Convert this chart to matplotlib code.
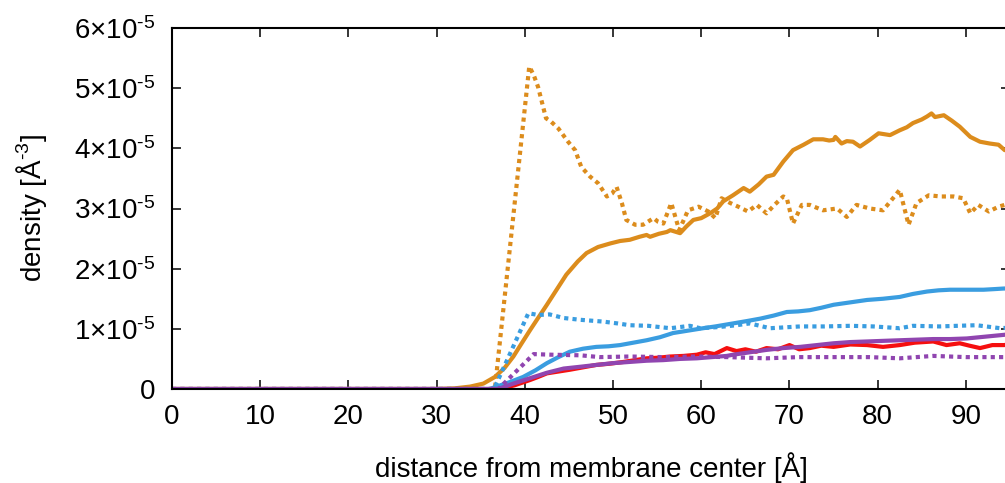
import matplotlib
matplotlib.use("Agg")
import matplotlib.pyplot as plt

plt.rcParams["font.family"] = ["Liberation Sans", "DejaVu Sans"]
plt.rcParams["mathtext.fontset"] = "custom"
plt.rcParams["mathtext.rm"] = "Liberation Sans"

# density in units of 1e-5 A^-3
orange_solid_x = [0, 30, 32, 33.8, 35.3, 36.6, 37.7, 38.7, 39.6, 40.6, 41.5, 42.5, 43.6, 44.7,
                  46.0, 47.0, 48.3, 49.7, 50.8, 51.9, 53.0, 53.8, 54.2, 55.2, 56.1, 56.5,
                  57.6, 58.3, 59.1, 60.0, 61.0, 61.8, 62.5, 63.6, 64.8, 65.5, 66.5, 67.4,
                  68.2, 69.3, 70.4, 71.6, 72.7, 73.8, 74.5, 75.0, 75.2, 75.9, 76.5, 77.2,
                  78.0, 79.1, 80.1, 81.4, 82.5, 83.3, 84.0, 85.0, 85.6, 86.1, 86.5, 87.5,
                  88.4, 89.3, 90.5, 91.6, 92.7, 93.7, 94.4, 95.0]
orange_solid_y = [0, 0, 0.01, 0.04, 0.09, 0.20, 0.35, 0.54, 0.75, 0.98, 1.18, 1.40, 1.65, 1.90,
                  2.12, 2.26, 2.36, 2.42, 2.46, 2.48, 2.53, 2.56, 2.53, 2.58, 2.61, 2.64,
                  2.59, 2.70, 2.81, 2.84, 2.92, 3.00, 3.12, 3.22, 3.34, 3.28, 3.40, 3.53,
                  3.56, 3.78, 3.97, 4.06, 4.15, 4.15, 4.13, 4.14, 4.19, 4.08, 4.12, 4.11,
                  4.03, 4.14, 4.25, 4.22, 4.30, 4.35, 4.42, 4.48, 4.53, 4.58, 4.52, 4.55,
                  4.46, 4.36, 4.19, 4.11, 4.08, 4.06, 3.97, 3.98]

orange_dot_x = [0, 36.6, 40.5, 41.0, 41.5, 42.4, 43.0, 43.8, 44.9, 45.7, 46.4, 47.4, 48.3, 49.3,
                49.9, 50.4, 51.0, 51.5, 52.5, 53.4, 54.6, 55.1, 55.7, 56.6, 57.5, 58.5,
                59.7, 60.8, 61.6, 62.3, 63.3, 64.2, 65.3, 66.3, 67.4, 68.3, 69.3, 69.7,
                70.4, 71.4, 72.3, 73.8, 75.4, 76.5, 77.6, 79.1, 80.6, 81.4, 82.5, 83.5,
                84.4, 85.8, 87.1, 88.6, 89.7, 90.5, 91.4, 92.6, 93.7, 94.4, 95.0]
orange_dot_y = [0, 0, 5.36, 5.22, 5.02, 4.50, 4.44, 4.33, 4.11, 3.97, 3.69, 3.53, 3.42, 3.20,
                3.25, 3.36, 3.09, 2.81, 2.73, 2.73, 2.84, 2.78, 2.75, 3.09, 2.64, 2.97,
                3.03, 2.95, 2.84, 3.17, 3.09, 3.03, 2.95, 3.06, 2.92, 3.06, 3.20, 3.17,
                2.75, 3.06, 3.06, 2.97, 3.00, 2.86, 3.06, 3.00, 2.97, 3.11, 3.31, 2.73,
                3.09, 3.22, 3.20, 3.20, 3.17, 2.92, 3.06, 2.95, 3.03, 3.06, 3.04]

blue_solid_x = [0, 36.0, 36.8, 38.2, 39.8, 41.2, 42.5, 43.8, 45.1, 46.6, 48.1, 49.5, 50.8, 52.3,
                53.8, 55.3, 56.8, 58.5, 60.2, 61.6, 63.6, 65.2, 66.7, 68.2, 69.7, 71.0,
                72.3, 73.6, 75.0, 76.9, 78.8, 80.6, 82.5, 84.0, 85.6, 86.9, 88.2, 90.1,
                92.0, 93.2, 94.3, 95.0]
blue_solid_y = [0, 0, 0.04, 0.11, 0.20, 0.31, 0.43, 0.53, 0.62, 0.67, 0.70, 0.71, 0.73, 0.77,
                0.81, 0.86, 0.93, 0.97, 1.01, 1.04, 1.09, 1.13, 1.17, 1.22, 1.28, 1.29,
                1.31, 1.35, 1.40, 1.44, 1.48, 1.50, 1.53, 1.58, 1.62, 1.64, 1.65, 1.65,
                1.65, 1.66, 1.67, 1.67]

blue_dot_x = [0, 36.5, 40.4, 41.5, 42.8, 44.4, 46.3, 48.9, 50.5, 51.9, 54.0, 56.5, 58.7, 59.9,
              62.0, 64.0, 65.5, 67.8, 71.2, 74.0, 76.9, 79.5, 82.5, 84.0, 87.0, 89.0,
              91.2, 93.9, 95.0]
blue_dot_y = [0, 0, 1.26, 1.23, 1.24, 1.18, 1.15, 1.12, 1.09, 1.06, 1.05, 1.01, 1.05, 1.01,
              1.03, 1.06, 1.09, 1.01, 1.04, 1.04, 1.05, 1.04, 1.01, 1.05, 1.04, 1.05,
              1.06, 1.01, 1.02]

red_x = [0, 37.0, 38.8, 40.6, 41.5, 42.5, 43.8, 45.1, 46.6, 48.1, 49.6, 51.2, 52.5, 53.8, 55.1,
         56.5, 58.0, 59.5, 60.5, 61.5, 62.9, 64.0, 65.0, 66.2, 67.4, 68.7, 70.0, 71.1,
         72.3, 73.6, 75.0, 76.9, 78.8, 80.6, 82.5, 84.2, 86.3, 87.8, 89.3, 90.4, 91.6,
         93.0, 94.3, 95.0]
red_y = [0, 0, 0.06, 0.15, 0.20, 0.26, 0.29, 0.32, 0.36, 0.40, 0.42, 0.45, 0.48, 0.51, 0.52,
         0.54, 0.55, 0.57, 0.61, 0.58, 0.68, 0.63, 0.66, 0.62, 0.68, 0.66, 0.73, 0.66,
         0.68, 0.72, 0.70, 0.74, 0.73, 0.70, 0.73, 0.77, 0.79, 0.73, 0.76, 0.72, 0.68,
         0.73, 0.73, 0.74]

purple_solid_x = [0, 37.0, 38.7, 40.6, 42.5, 44.4, 46.3, 48.1, 50.0, 51.9, 53.8, 55.7, 57.6,
                  59.5, 61.2, 62.9, 63.6, 65.5, 67.4, 69.3, 71.2, 73.1, 75.0, 76.9, 78.8,
                  80.6, 82.5, 84.4, 86.3, 88.2, 90.1, 92.2, 94.3, 95.0]
purple_solid_y = [0, 0, 0.09, 0.18, 0.27, 0.34, 0.37, 0.40, 0.43, 0.45, 0.47, 0.48, 0.50,
                  0.51, 0.53, 0.55, 0.57, 0.61, 0.65, 0.68, 0.70, 0.73, 0.76, 0.78, 0.79,
                  0.80, 0.81, 0.82, 0.83, 0.83, 0.84, 0.87, 0.90, 0.91]

purple_dot_x = [0, 37.0, 41.0, 43.0, 46.3, 48.5, 51.9, 55.7, 59.5, 63.0, 67.4, 71.0, 75.0,
                79.0, 82.5, 86.3, 90.0, 93.9, 95.0]
purple_dot_y = [0, 0, 0.58, 0.57, 0.56, 0.53, 0.54, 0.53, 0.54, 0.53, 0.51, 0.53, 0.53,
                0.53, 0.51, 0.55, 0.53, 0.53, 0.53]

xtick_vals = [0, 10, 20, 30, 40, 50, 60, 70, 80, 90]
ytick_vals = [0, 1, 2, 3, 4, 5, 6]
ytick_labels = ["0"] + [r"$\mathregular{%d{\times}10^{\text{-}5}}$" % v for v in ytick_vals[1:]]

ORANGE = "#dc8c1c"
BLUE = "#3a9de0"
RED = "#f50f0f"
PURPLE = "#9045b0"

fig = plt.figure(figsize=(10.05, 4.83), dpi=100)
ax = fig.add_axes([172 / 1005, 1 - 389 / 483, 838 / 1005, 361 / 483])

lw = 3.0
dot = dict(linestyle=(0, (1, 1)), dash_capstyle="butt")
ax.plot(orange_solid_x, orange_solid_y, color=ORANGE, lw=lw)
ax.plot(orange_dot_x, orange_dot_y, color=ORANGE, lw=lw, **dot)
ax.plot(blue_solid_x, blue_solid_y, color=BLUE, lw=lw)
ax.plot(blue_dot_x, blue_dot_y, color=BLUE, lw=lw, **dot)
ax.plot(red_x, red_y, color=RED, lw=lw)
ax.plot(purple_solid_x, purple_solid_y, color=PURPLE, lw=lw)
ax.plot(purple_dot_x, purple_dot_y, color=PURPLE, lw=lw, **dot)

ax.set_xlim(0, 95)
ax.set_ylim(0, 6)
ax.set_xticks(xtick_vals)
ax.set_yticks(ytick_vals)
ax.set_yticklabels(ytick_labels)
ax.tick_params(direction="in", length=6.5, width=1.1, labelsize=20,
               top=True, right=True, colors="black")
ax.tick_params(axis="x", pad=11)
ax.tick_params(axis="y", pad=12)
for s in ax.spines.values():
    s.set_linewidth(1.5)

ax.set_xlabel("distance from membrane center [Å]", fontsize=20, labelpad=16)
ax.set_ylabel(r"density [Å$^{\mathregular{\text{-}3}}$]", fontsize=20, labelpad=18)

fig.savefig("out.png", dpi=100)
